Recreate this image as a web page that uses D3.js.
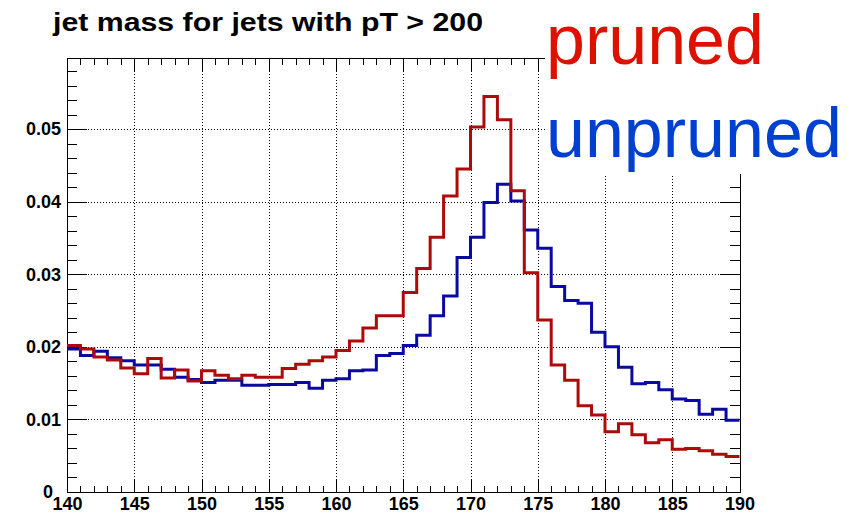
<!DOCTYPE html>
<html>
<head>
<meta charset="utf-8">
<style>
    body { margin: 0; background: #fff; }
    text { font-family: "Liberation Sans", Arial, Helvetica, sans-serif; }
    .title { font-size: 26px; font-weight: bold; fill: #000; }
    .axis text { font-size: 18px; font-weight: bold; fill: #000; }
    .axis path, .axis line { stroke: #000; stroke-width: 1; shape-rendering: crispEdges; }
    .grid { stroke: #000; stroke-width: 1; stroke-dasharray: 1,2; shape-rendering: crispEdges; }
</style>
<script src="https://d3js.org/d3.v7.min.js"></script>
</head>
<body>
<svg width="860" height="515"></svg>
<script>
// bin edges: 50 bins of width 1 from 140 to 190
var binStart = d3.range(140, 190, 1);

var pruned = [
    0.0202, 0.0197, 0.0186, 0.0182, 0.0171, 0.0163, 0.0184, 0.0157, 0.0168, 0.0153,
    0.0167, 0.0161, 0.0156, 0.0161, 0.0158, 0.0158, 0.0170, 0.0176, 0.0181, 0.0186,
    0.0195, 0.0208, 0.0226, 0.0243, 0.0243, 0.0275, 0.0308, 0.0351, 0.0408, 0.0445,
    0.0503, 0.0545, 0.0513, 0.0415, 0.0302, 0.0237, 0.0175, 0.0154, 0.0119, 0.0106,
    0.0083, 0.0094, 0.0079, 0.0068, 0.0072, 0.0059, 0.0060, 0.0057, 0.0052, 0.0049
];

var unpruned = [
    0.0197, 0.0188, 0.0194, 0.0185, 0.0181, 0.0175, 0.0175, 0.0169, 0.0158, 0.0155,
    0.0151, 0.0154, 0.0154, 0.0147, 0.0147, 0.0148, 0.0148, 0.0151, 0.0143, 0.0154,
    0.0156, 0.0167, 0.0168, 0.0188, 0.0191, 0.0202, 0.0216, 0.0243, 0.0270, 0.0323,
    0.0351, 0.0399, 0.0424, 0.0401, 0.0361, 0.0336, 0.0283, 0.0264, 0.0260, 0.0220,
    0.0200, 0.0172, 0.0149, 0.0151, 0.0141, 0.0128, 0.0126, 0.0107, 0.0114, 0.0099
];

var xMajor = d3.range(140, 191, 5);
var xMinor = d3.range(140, 191, 1);
var yMajor = [0, 0.01, 0.02, 0.03, 0.04, 0.05];
var yMinor = d3.range(0, 0.0598, 0.002);

var svg = d3.select("svg");

var x = d3.scaleLinear().domain([140, 190]).range([67, 739.5]);
var y = d3.scaleLinear().domain([0, 0.0598]).range([492, 58]);

// title
svg.append("text")
    .attr("class", "title")
    .attr("x", 53)
    .attr("y", 31)
    .attr("textLength", 430)
    .attr("lengthAdjust", "spacingAndGlyphs")
    .text("jet mass for jets with pT > 200");

// dotted grid
svg.append("g").selectAll("line.gx")
    .data(xMajor.slice(1, -1))
    .enter().append("line")
    .attr("class", "grid")
    .attr("x1", function (d) { return Math.round(x(d)) + 0.5; })
    .attr("x2", function (d) { return Math.round(x(d)) + 0.5; })
    .attr("y1", y(0))
    .attr("y2", y.range()[1]);

svg.append("g").selectAll("line.gy")
    .data(yMajor.slice(1))
    .enter().append("line")
    .attr("class", "grid")
    .attr("x1", x(140))
    .attr("x2", x(190))
    .attr("y1", function (d) { return Math.round(y(d)) + 0.5; })
    .attr("y2", function (d) { return Math.round(y(d)) + 0.5; });

// axes (ticks point inside the frame)
svg.append("g").attr("class", "axis")
    .attr("transform", "translate(0," + y(0) + ")")
    .call(d3.axisBottom(x).tickValues(xMajor).tickSize(-13).tickSizeOuter(0).tickPadding(5).tickFormat(d3.format("d")));
svg.append("g").attr("class", "axis")
    .attr("transform", "translate(0," + y(0) + ")")
    .call(d3.axisBottom(x).tickValues(xMinor).tickSize(-6.5).tickSizeOuter(0).tickFormat(""));

svg.append("g").attr("class", "axis")
    .attr("transform", "translate(0," + y.range()[1] + ")")
    .call(d3.axisTop(x).tickValues(xMajor).tickSize(-13).tickSizeOuter(0).tickFormat(""));
svg.append("g").attr("class", "axis")
    .attr("transform", "translate(0," + y.range()[1] + ")")
    .call(d3.axisTop(x).tickValues(xMinor).tickSize(-6.5).tickSizeOuter(0).tickFormat(""));

var leftAxis = svg.append("g").attr("class", "axis")
    .attr("transform", "translate(" + x(140) + ",0)")
    .call(d3.axisLeft(y).tickValues(yMajor).tickSize(-20).tickSizeOuter(0).tickPadding(6)
        .tickFormat(function (d) { return d === 0 ? "0" : d3.format(".2f")(d); }));
leftAxis.selectAll(".tick text").filter(function (d) { return d === 0; })
    .attr("x", -14);
svg.append("g").attr("class", "axis")
    .attr("transform", "translate(" + x(140) + ",0)")
    .call(d3.axisLeft(y).tickValues(yMinor).tickSize(-10).tickSizeOuter(0).tickFormat(""));

svg.append("g").attr("class", "axis")
    .attr("transform", "translate(" + x(190) + ",0)")
    .call(d3.axisRight(y).tickValues(yMajor).tickSize(-20).tickSizeOuter(0).tickFormat(""));
svg.append("g").attr("class", "axis")
    .attr("transform", "translate(" + x(190) + ",0)")
    .call(d3.axisRight(y).tickValues(yMinor).tickSize(-10).tickSizeOuter(0).tickFormat(""));

// histograms as step lines
function steps(vals) {
    var pts = binStart.map(function (b, i) { return [b, vals[i]]; });
    pts.push([190, vals[vals.length - 1]]);
    return pts;
}

var line = d3.line()
    .x(function (d) { return x(d[0]); })
    .y(function (d) { return y(d[1]); })
    .curve(d3.curveStepAfter);

svg.append("path")
    .datum(steps(unpruned))
    .attr("fill", "none")
    .attr("stroke", "#0a0aa0")
    .attr("stroke-width", 3)
    .attr("d", line);

svg.append("path")
    .datum(steps(pruned))
    .attr("fill", "none")
    .attr("stroke", "#ad0a0a")
    .attr("stroke-width", 3)
    .attr("d", line);

// legend labels sit on a white box that hides the top right corner of the frame
svg.append("rect")
    .attr("x", 545)
    .attr("y", 0)
    .attr("width", 315)
    .attr("height", 174)
    .attr("fill", "#fff");

svg.append("text")
    .attr("x", 546)
    .attr("y", 64)
    .attr("font-size", 70)
    .attr("fill", "#dd1100")
    .text("pruned");

svg.append("text")
    .attr("x", 546)
    .attr("y", 157)
    .attr("font-size", 70)
    .attr("fill", "#0040d0")
    .text("unpruned");
</script>
</body>
</html>
